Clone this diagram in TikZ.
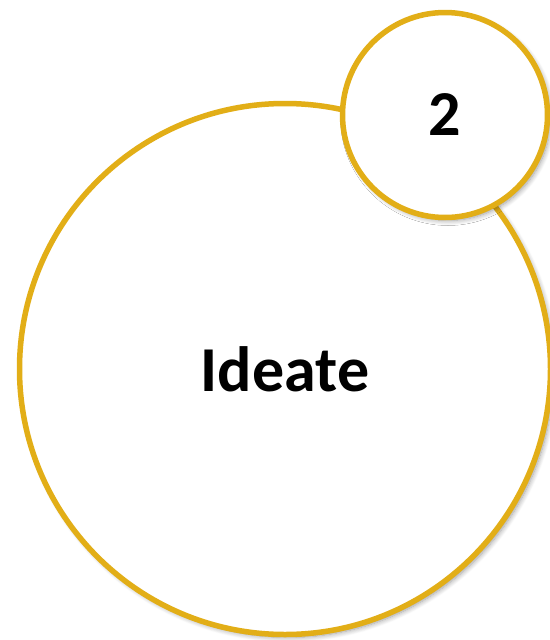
\documentclass[tikz,border=0pt]{standalone}
\usepackage{fontspec}
\setmainfont{Carlito}
\usetikzlibrary{shadows.blur}
\definecolor{gold}{HTML}{E2AE17}
\begin{document}
\begin{tikzpicture}[x=1pt,y=-1pt,
  ring/.style={circle, draw=gold, line width=5.5pt, fill=white, inner sep=0pt,
    blur shadow={shadow xshift=3pt, shadow yshift=-3pt, shadow blur steps=8, shadow opacity=40, shadow blur radius=5pt},
    font=\bfseries\fontsize{64}{70}\selectfont}]
\useasboundingbox (0,0) rectangle (549,640);
\node[ring, minimum size=531pt] (ideate) at (285,369) {Ideate};
\node[ring, minimum size=205pt] (two) at (445,115) {2};
\end{tikzpicture}
\end{document}
